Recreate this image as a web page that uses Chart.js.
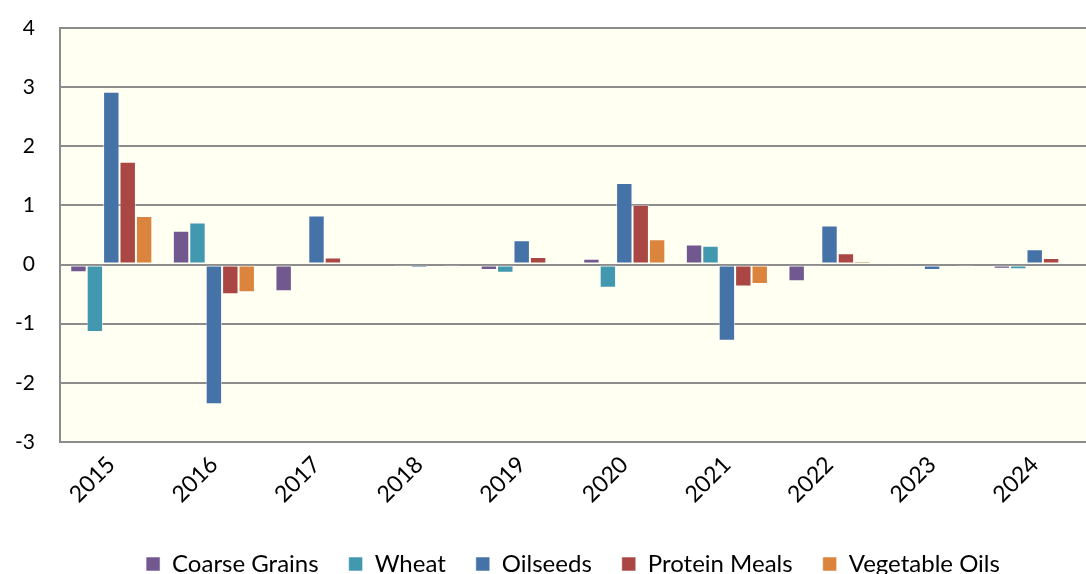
<!DOCTYPE html>
<html>
<head>
<meta charset="utf-8">
<script src="https://cdn.jsdelivr.net/npm/chart.js@4/dist/chart.umd.min.js"></script>
<style>
  html, body { margin: 0; padding: 0; background: #ffffff; }
  #wrap { width: 1086px; height: 574px; }
</style>
</head>
<body>
<div id="wrap"><canvas id="chart"></canvas></div>
<script>
// Year-on-year change, by commodity
const years = ['2015', '2016', '2017', '2018', '2019', '2020', '2021', '2022', '2023', '2024'];
const coarseGrains  = [-0.13, 0.57, -0.45, 0.00, -0.09, 0.10, 0.34, -0.28, -0.01, -0.07];
const wheat         = [-1.14, 0.71, 0.00, -0.03, -0.14, -0.39, 0.32, -0.05, -0.01, -0.08];
const oilseeds      = [2.92, -2.36, 0.83, -0.06, 0.41, 1.38, -1.29, 0.66, -0.09, 0.26];
const proteinMeals  = [1.74, -0.50, 0.12, 0.03, 0.13, 1.01, -0.37, 0.19, 0.03, 0.11];
const vegetableOils = [0.82, -0.47, 0.01, -0.04, 0.05, 0.43, -0.33, 0.06, -0.03, 0.04];
const yTicks = [-3, -2, -1, 0, 1, 2, 3, 4];

const seriesNames  = ['Coarse Grains', 'Wheat', 'Oilseeds', 'Protein Meals', 'Vegetable Oils'];
const seriesData   = [coarseGrains, wheat, oilseeds, proteinMeals, vegetableOils];
const seriesColors = ['#71588F', '#4198AF', '#4572A7', '#AA4643', '#DB843D'];

// paint the plot area cream like the original
const plotBackground = {
  id: 'plotBackground',
  beforeDraw(chart) {
    const { ctx, chartArea: a } = chart;
    ctx.save();
    ctx.fillStyle = '#FFFFF2';
    ctx.fillRect(a.left, a.top, a.right - a.left, a.bottom - a.top);
    ctx.restore();
  }
};

const ctx = document.getElementById('chart').getContext('2d');
new Chart(ctx, {
  type: 'bar',
  data: {
    labels: years,
    datasets: seriesNames.map((name, i) => ({
      label: name,
      data: seriesData[i],
      backgroundColor: seriesColors[i],
      borderColor: 'rgba(255,255,255,0.55)',
      borderWidth: 1,
      borderSkipped: false,
      categoryPercentage: 0.8,
      barPercentage: 1.0
    }))
  },
  options: {
    responsive: true,
    maintainAspectRatio: false,
    animation: false,
    layout: { padding: { top: 28, right: 0, left: 0, bottom: -12 } },
    plugins: {
      legend: {
        position: 'bottom',
        fullSize: false,
        labels: {
          color: '#000',
          font: { family: 'Lato', size: 24 },
          boxWidth: 14,
          boxHeight: 14,
          padding: 30
        }
      },
      tooltip: { enabled: false }
    },
    scales: {
      x: {
        grid: { display: false, drawTicks: false },
        border: { display: false },
        ticks: {
          color: '#000',
          font: { family: 'Lato', size: 23 },
          maxRotation: 45,
          minRotation: 45,
          padding: 9
        },
        afterFit(scale) { scale.height = 80; }
      },
      y: {
        min: -3,
        max: 4,
        afterBuildTicks(scale) { scale.ticks = yTicks.map(v => ({ value: v })); },
        grid: { color: '#8C8C8C', lineWidth: 2, drawTicks: false },
        border: { display: true, color: '#8C8C8C', width: 2 },
        ticks: {
          color: '#000',
          font: { family: 'Lato', size: 21 },
          padding: 25
        },
        afterFit(scale) {
          scale.width = 60;
          // tick padding is horizontal only here; don't let it push the plot down
          scale.paddingTop = 12;
          scale.paddingBottom = 12;
        }
      }
    }
  },
  plugins: [plotBackground]
});
</script>
</body>
</html>
